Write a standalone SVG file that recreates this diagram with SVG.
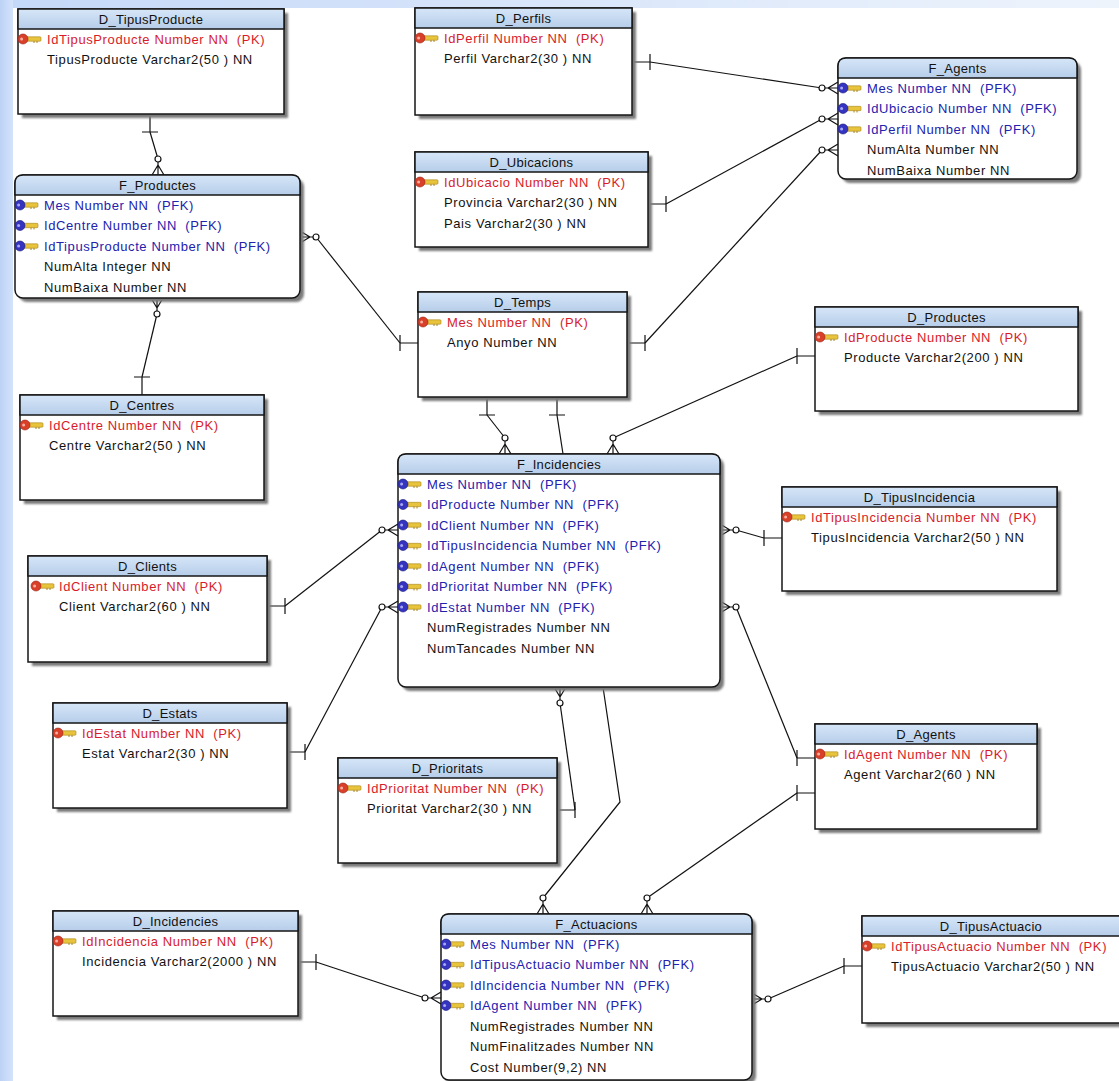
<svg xmlns="http://www.w3.org/2000/svg" width="1119" height="1081" viewBox="0 0 1119 1081">
<defs>
  <style>
    .sh { fill: #7a7a7a; filter: url(#blur); }
    .box { fill: #ffffff; stroke: #161616; stroke-width: 1.5; }
    .hd { fill: url(#hdrGrad); stroke: #161616; stroke-width: 1.5; }
    .t { font-family: "Liberation Sans", Arial, sans-serif; font-size: 13px; letter-spacing: 0.6px; word-spacing: 0px; white-space: pre; }
    .ti { text-anchor: middle; fill: #111111; letter-spacing: 0.3px; }
    .pk { fill: #d81c2a; }
    .pfk { fill: #2222ae; }
    .c { fill: #111111; }
    .ln { fill: none; stroke: #111111; stroke-width: 1.2; }
  </style>
  <linearGradient id="hdrGrad" x1="0" y1="0" x2="0" y2="1">
    <stop offset="0" stop-color="#d6e6f8"/>
    <stop offset="1" stop-color="#b6cde9"/>
  </linearGradient>
  <linearGradient id="bgTop" x1="0" y1="0" x2="1" y2="0">
    <stop offset="0" stop-color="#c4d8f8"/>
    <stop offset="1" stop-color="#eef4fc"/>
  </linearGradient>
  <linearGradient id="bgLeft" x1="0" y1="0" x2="1" y2="0">
    <stop offset="0" stop-color="#bcd2f6"/>
    <stop offset="1" stop-color="#d4e3fa"/>
  </linearGradient>
  <filter id="blur" x="-5%" y="-5%" width="115%" height="115%">
    <feGaussianBlur stdDeviation="1.2"/>
  </filter>
  <!-- primary key icon (red head) -->
  <g id="kpk">
    <rect x="2" y="-2.2" width="16" height="4.4" rx="1" fill="#e8c43c" stroke="#a8841a" stroke-width="0.6"/>
    <path d="M11 2v2M14 2v2" stroke="#a8841a" stroke-width="1"/>
    <circle r="5" fill="#d8402a" stroke="#9c2010" stroke-width="0.6"/>
    <circle cx="-1.4" cy="0" r="1.5" fill="#f6b0a0"/>
  </g>
  <!-- primary+foreign key icon (blue head) -->
  <g id="kpfk">
    <rect x="2" y="-2.2" width="16" height="4.4" rx="1" fill="#e8c43c" stroke="#a8841a" stroke-width="0.6"/>
    <path d="M11 2v2M14 2v2" stroke="#a8841a" stroke-width="1"/>
    <circle r="5" fill="#3434c0" stroke="#181880" stroke-width="0.6"/>
    <circle cx="-1.4" cy="0" r="1.5" fill="#a8a8f0"/>
  </g>
  <!-- optional-many end: the entity lies towards +x -->
  <g id="crow" fill="none" stroke="#111111" stroke-width="1.2">
    <path d="M-13 0H0M-10 0L0 -6M-10 0L0 6"/>
    <circle cx="-16" cy="0" r="3" fill="#ffffff"/>
  </g>
  <!-- mandatory-one end: the entity lies towards +x -->
  <g id="one" fill="none" stroke="#111111" stroke-width="1.2">
    <path d="M0 0H-18M-18 -8V8"/>
  </g>
</defs>

<!-- page background -->
<rect x="0" y="0" width="1119" height="1081" fill="#ffffff"/>
<rect x="0" y="0" width="1119" height="8" fill="url(#bgTop)"/>
<rect x="0" y="0" width="13" height="1081" fill="url(#bgLeft)"/>

<!-- relationships -->
<g id="connectors">
  <path class="ln" d="M150 132L158 159"/>
  <path class="ln" d="M316 237L400 343"/>
  <path class="ln" d="M157 314L142 377"/>
  <path class="ln" d="M650 62L822 88"/>
  <path class="ln" d="M666 204L822 119"/>
  <path class="ln" d="M645 343L822 150"/>
  <path class="ln" d="M487 415L505 438"/>
  <path class="ln" d="M557 415L563 454"/>
  <path class="ln" d="M797 356L613 438"/>
  <path class="ln" d="M285 606L382 530"/>
  <path class="ln" d="M305 752L382 607"/>
  <path class="ln" d="M736 530L764 538"/>
  <path class="ln" d="M736 607L797 758"/>
  <path class="ln" d="M560 703L575 810"/>
  <path class="ln" d="M603 687L620 802L543 898"/>
  <path class="ln" d="M797 793L647 898"/>
  <path class="ln" d="M316 962L425 998"/>
  <path class="ln" d="M768 999L844 966"/>

  <use href="#one" transform="translate(150 114) rotate(-90)"/>
  <use href="#crow" transform="translate(158 175) rotate(90)"/>
  <use href="#crow" transform="translate(300 237) rotate(180)"/>
  <use href="#one" transform="translate(418 343)"/>
  <use href="#crow" transform="translate(157 298) rotate(-90)"/>
  <use href="#one" transform="translate(142 395) rotate(90)"/>
  <use href="#one" transform="translate(632 62) rotate(180)"/>
  <use href="#crow" transform="translate(838 88)"/>
  <use href="#one" transform="translate(648 204) rotate(180)"/>
  <use href="#crow" transform="translate(838 119)"/>
  <use href="#one" transform="translate(627 343) rotate(180)"/>
  <use href="#crow" transform="translate(838 150)"/>
  <use href="#one" transform="translate(487 397) rotate(-90)"/>
  <use href="#crow" transform="translate(505 454) rotate(90)"/>
  <use href="#one" transform="translate(557 397) rotate(-90)"/>
  <use href="#one" transform="translate(815 356)"/>
  <use href="#crow" transform="translate(613 454) rotate(90)"/>
  <use href="#one" transform="translate(267 606) rotate(180)"/>
  <use href="#crow" transform="translate(398 530)"/>
  <use href="#one" transform="translate(287 752) rotate(180)"/>
  <use href="#crow" transform="translate(398 607)"/>
  <use href="#crow" transform="translate(720 530) rotate(180)"/>
  <use href="#one" transform="translate(782 538)"/>
  <use href="#crow" transform="translate(720 607) rotate(180)"/>
  <use href="#one" transform="translate(815 758)"/>
  <use href="#crow" transform="translate(560 687) rotate(-90)"/>
  <use href="#one" transform="translate(557 810) rotate(180)"/>
  <use href="#crow" transform="translate(543 914) rotate(90)"/>
  <use href="#one" transform="translate(815 793)"/>
  <use href="#crow" transform="translate(647 914) rotate(90)"/>
  <use href="#one" transform="translate(298 962) rotate(180)"/>
  <use href="#crow" transform="translate(441 998)"/>
  <use href="#crow" transform="translate(752 999) rotate(180)"/>
  <use href="#one" transform="translate(862 966)"/>
</g>

<!-- tables -->
<g id="D_TipusProducte">
  <rect class="sh" x="22" y="13" width="266" height="105"/>
  <rect class="box" x="18" y="9" width="266" height="105"/>
  <rect class="hd" x="18" y="9" width="266" height="20"/>
  <text class="t ti" x="151" y="23.5">D_TipusProducte</text>
  <use href="#kpk" x="23" y="39"/>
  <text class="t pk" x="47" y="43.5">IdTipusProducte Number NN  (PK)</text>
  <text class="t c" x="47" y="64">TipusProducte Varchar2(50 ) NN</text>
</g>

<g id="D_Perfils">
  <rect class="sh" x="419" y="12" width="217" height="107"/>
  <rect class="box" x="415" y="8" width="217" height="107"/>
  <rect class="hd" x="415" y="8" width="217" height="20"/>
  <text class="t ti" x="523.5" y="22.5">D_Perfils</text>
  <use href="#kpk" x="420" y="38"/>
  <text class="t pk" x="444" y="42.5">IdPerfil Number NN  (PK)</text>
  <text class="t c" x="444" y="63">Perfil Varchar2(30 ) NN</text>
</g>

<g id="F_Agents">
  <rect class="sh" x="842" y="62" width="239" height="121" rx="8"/>
  <rect class="box" x="838" y="58" width="239" height="121" rx="8"/>
  <path class="hd" d="M838 78V66Q838 58 846 58H1069Q1077 58 1077 66V78Z"/>
  <text class="t ti" x="957.5" y="72.5">F_Agents</text>
  <use href="#kpfk" x="843" y="88"/>
  <use href="#kpfk" x="843" y="108.5"/>
  <use href="#kpfk" x="843" y="129"/>
  <text class="t pfk" x="867" y="92.5">Mes Number NN  (PFK)</text>
  <text class="t pfk" x="867" y="113">IdUbicacio Number NN  (PFK)</text>
  <text class="t pfk" x="867" y="133.5">IdPerfil Number NN  (PFK)</text>
  <text class="t c" x="867" y="154">NumAlta Number NN</text>
  <text class="t c" x="867" y="174.5">NumBaixa Number NN</text>
</g>

<g id="D_Ubicacions">
  <rect class="sh" x="419" y="156" width="233" height="95"/>
  <rect class="box" x="415" y="152" width="233" height="95"/>
  <rect class="hd" x="415" y="152" width="233" height="20"/>
  <text class="t ti" x="531.5" y="166.5">D_Ubicacions</text>
  <use href="#kpk" x="420" y="182"/>
  <text class="t pk" x="444" y="186.5">IdUbicacio Number NN  (PK)</text>
  <text class="t c" x="444" y="207">Provincia Varchar2(30 ) NN</text>
  <text class="t c" x="444" y="227.5">Pais Varchar2(30 ) NN</text>
</g>

<g id="F_Productes">
  <rect class="sh" x="19" y="179" width="285" height="123" rx="8"/>
  <rect class="box" x="15" y="175" width="285" height="123" rx="8"/>
  <path class="hd" d="M15 195V183Q15 175 23 175H292Q300 175 300 183V195Z"/>
  <text class="t ti" x="157.5" y="189.5">F_Productes</text>
  <use href="#kpfk" x="20" y="205"/>
  <use href="#kpfk" x="20" y="225.5"/>
  <use href="#kpfk" x="20" y="246"/>
  <text class="t pfk" x="44" y="209.5">Mes Number NN  (PFK)</text>
  <text class="t pfk" x="44" y="230">IdCentre Number NN  (PFK)</text>
  <text class="t pfk" x="44" y="250.5">IdTipusProducte Number NN  (PFK)</text>
  <text class="t c" x="44" y="271">NumAlta Integer NN</text>
  <text class="t c" x="44" y="291.5">NumBaixa Number NN</text>
</g>

<g id="D_Temps">
  <rect class="sh" x="422" y="296" width="209" height="105"/>
  <rect class="box" x="418" y="292" width="209" height="105"/>
  <rect class="hd" x="418" y="292" width="209" height="20"/>
  <text class="t ti" x="522.5" y="306.5">D_Temps</text>
  <use href="#kpk" x="423" y="322"/>
  <text class="t pk" x="447" y="326.5">Mes Number NN  (PK)</text>
  <text class="t c" x="447" y="347">Anyo Number NN</text>
</g>

<g id="D_Productes">
  <rect class="sh" x="819" y="311" width="263" height="104"/>
  <rect class="box" x="815" y="307" width="263" height="104"/>
  <rect class="hd" x="815" y="307" width="263" height="20"/>
  <text class="t ti" x="946.5" y="321.5">D_Productes</text>
  <use href="#kpk" x="820" y="337"/>
  <text class="t pk" x="844" y="341.5">IdProducte Number NN  (PK)</text>
  <text class="t c" x="844" y="362">Producte Varchar2(200 ) NN</text>
</g>

<g id="D_Centres">
  <rect class="sh" x="24" y="399" width="244" height="105"/>
  <rect class="box" x="20" y="395" width="244" height="105"/>
  <rect class="hd" x="20" y="395" width="244" height="20"/>
  <text class="t ti" x="142" y="409.5">D_Centres</text>
  <use href="#kpk" x="25" y="425"/>
  <text class="t pk" x="49" y="429.5">IdCentre Number NN  (PK)</text>
  <text class="t c" x="49" y="450">Centre Varchar2(50 ) NN</text>
</g>

<g id="F_Incidencies">
  <rect class="sh" x="402" y="458" width="322" height="233" rx="8"/>
  <rect class="box" x="398" y="454" width="322" height="233" rx="8"/>
  <path class="hd" d="M398 474V462Q398 454 406 454H712Q720 454 720 462V474Z"/>
  <text class="t ti" x="559" y="468.5">F_Incidencies</text>
  <use href="#kpfk" x="403" y="484"/>
  <use href="#kpfk" x="403" y="504.5"/>
  <use href="#kpfk" x="403" y="525"/>
  <use href="#kpfk" x="403" y="545.5"/>
  <use href="#kpfk" x="403" y="566"/>
  <use href="#kpfk" x="403" y="586.5"/>
  <use href="#kpfk" x="403" y="607"/>
  <text class="t pfk" x="427" y="488.5">Mes Number NN  (PFK)</text>
  <text class="t pfk" x="427" y="509">IdProducte Number NN  (PFK)</text>
  <text class="t pfk" x="427" y="529.5">IdClient Number NN  (PFK)</text>
  <text class="t pfk" x="427" y="550">IdTipusIncidencia Number NN  (PFK)</text>
  <text class="t pfk" x="427" y="570.5">IdAgent Number NN  (PFK)</text>
  <text class="t pfk" x="427" y="591">IdPrioritat Number NN  (PFK)</text>
  <text class="t pfk" x="427" y="611.5">IdEstat Number NN  (PFK)</text>
  <text class="t c" x="427" y="632">NumRegistrades Number NN</text>
  <text class="t c" x="427" y="652.5">NumTancades Number NN</text>
</g>

<g id="D_TipusIncidencia">
  <rect class="sh" x="786" y="491" width="275" height="104"/>
  <rect class="box" x="782" y="487" width="275" height="104"/>
  <rect class="hd" x="782" y="487" width="275" height="20"/>
  <text class="t ti" x="919.5" y="501.5">D_TipusIncidencia</text>
  <use href="#kpk" x="787" y="517"/>
  <text class="t pk" x="811" y="521.5">IdTipusIncidencia Number NN  (PK)</text>
  <text class="t c" x="811" y="542">TipusIncidencia Varchar2(50 ) NN</text>
</g>

<g id="D_Clients">
  <rect class="sh" x="32" y="560" width="239" height="106"/>
  <rect class="box" x="28" y="556" width="239" height="106"/>
  <rect class="hd" x="28" y="556" width="239" height="20"/>
  <text class="t ti" x="147.5" y="570.5">D_Clients</text>
  <use href="#kpk" x="36" y="586"/>
  <text class="t pk" x="59" y="590.5">IdClient Number NN  (PK)</text>
  <text class="t c" x="59" y="611">Client Varchar2(60 ) NN</text>
</g>

<g id="D_Estats">
  <rect class="sh" x="57" y="707" width="234" height="105"/>
  <rect class="box" x="53" y="703" width="234" height="105"/>
  <rect class="hd" x="53" y="703" width="234" height="20"/>
  <text class="t ti" x="170" y="717.5">D_Estats</text>
  <use href="#kpk" x="58" y="733"/>
  <text class="t pk" x="82" y="737.5">IdEstat Number NN  (PK)</text>
  <text class="t c" x="82" y="758">Estat Varchar2(30 ) NN</text>
</g>

<g id="D_Agents">
  <rect class="sh" x="819" y="728" width="222" height="105"/>
  <rect class="box" x="815" y="724" width="222" height="105"/>
  <rect class="hd" x="815" y="724" width="222" height="20"/>
  <text class="t ti" x="926" y="738.5">D_Agents</text>
  <use href="#kpk" x="820" y="754"/>
  <text class="t pk" x="844" y="758.5">IdAgent Number NN  (PK)</text>
  <text class="t c" x="844" y="779">Agent Varchar2(60 ) NN</text>
</g>

<g id="D_Prioritats">
  <rect class="sh" x="342" y="762" width="219" height="105"/>
  <rect class="box" x="338" y="758" width="219" height="105"/>
  <rect class="hd" x="338" y="758" width="219" height="20"/>
  <text class="t ti" x="447.5" y="772.5">D_Prioritats</text>
  <use href="#kpk" x="343" y="788"/>
  <text class="t pk" x="367" y="792.5">IdPrioritat Number NN  (PK)</text>
  <text class="t c" x="367" y="813">Prioritat Varchar2(30 ) NN</text>
</g>

<g id="D_Incidencies">
  <rect class="sh" x="57" y="915" width="245" height="105"/>
  <rect class="box" x="53" y="911" width="245" height="105"/>
  <rect class="hd" x="53" y="911" width="245" height="20"/>
  <text class="t ti" x="175.5" y="925.5">D_Incidencies</text>
  <use href="#kpk" x="58" y="941"/>
  <text class="t pk" x="82" y="945.5">IdIncidencia Number NN  (PK)</text>
  <text class="t c" x="82" y="966">Incidencia Varchar2(2000 ) NN</text>
</g>

<g id="F_Actuacions">
  <rect class="sh" x="445" y="918" width="311" height="166" rx="8"/>
  <rect class="box" x="441" y="914" width="311" height="166" rx="8"/>
  <path class="hd" d="M441 934V922Q441 914 449 914H744Q752 914 752 922V934Z"/>
  <text class="t ti" x="596.5" y="928.5">F_Actuacions</text>
  <use href="#kpfk" x="446" y="944"/>
  <use href="#kpfk" x="446" y="964.5"/>
  <use href="#kpfk" x="446" y="985"/>
  <use href="#kpfk" x="446" y="1005.5"/>
  <text class="t pfk" x="470" y="948.5">Mes Number NN  (PFK)</text>
  <text class="t pfk" x="470" y="969">IdTipusActuacio Number NN  (PFK)</text>
  <text class="t pfk" x="470" y="989.5">IdIncidencia Number NN  (PFK)</text>
  <text class="t pfk" x="470" y="1010">IdAgent Number NN  (PFK)</text>
  <text class="t c" x="470" y="1030.5">NumRegistrades Number NN</text>
  <text class="t c" x="470" y="1051">NumFinalitzades Number NN</text>
  <text class="t c" x="470" y="1071.5">Cost Number(9,2) NN</text>
</g>

<g id="D_TipusActuacio">
  <rect class="sh" x="866" y="920" width="258" height="107"/>
  <rect class="box" x="862" y="916" width="258" height="107"/>
  <rect class="hd" x="862" y="916" width="258" height="20"/>
  <text class="t ti" x="991" y="930.5">D_TipusActuacio</text>
  <use href="#kpk" x="867" y="946"/>
  <text class="t pk" x="891" y="950.5">IdTipusActuacio Number NN  (PK)</text>
  <text class="t c" x="891" y="971">TipusActuacio Varchar2(50 ) NN</text>
</g>
</svg>
